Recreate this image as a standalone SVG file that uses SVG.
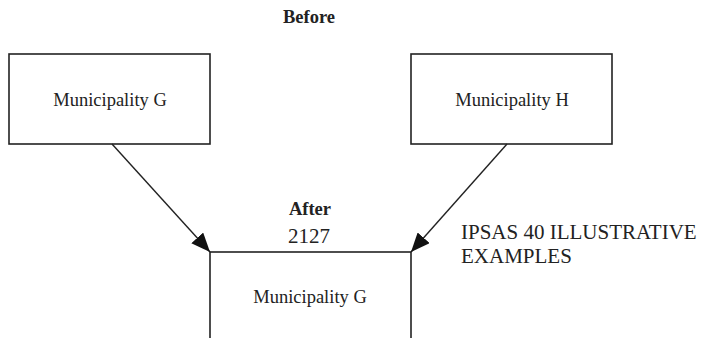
<svg xmlns="http://www.w3.org/2000/svg" width="702" height="338" viewBox="0 0 702 338">
<style>
  .box{fill:#fff;stroke:#222;stroke-width:1.6}
  .t{font-family:"Liberation Serif","Times New Roman",serif;fill:#222;text-anchor:middle}
  .lbl{font-size:18.5px}
  .b{font-size:18.5px;font-weight:bold}
  .conn{stroke:#222;stroke-width:1.4;fill:none}
</style>
<defs>
  <marker id="ah" markerUnits="userSpaceOnUse" markerWidth="20" markerHeight="16" refX="19" refY="8" orient="auto">
    <path d="M0,0 L19,8 L0,16 Z" fill="#111"/>
  </marker>
</defs>
<rect width="702" height="338" fill="#fff"/>
<text class="t b" x="309" y="23">Before</text>
<g id="nodeG">
  <rect class="box" x="9" y="54" width="201" height="90"/>
  <text class="t lbl" x="110" y="106">Municipality G</text>
</g>
<g id="nodeH">
  <rect class="box" x="411" y="54" width="201" height="90"/>
  <text class="t lbl" x="512" y="106">Municipality H</text>
</g>
<g id="nodeAfter">
  <text class="t b" x="310" y="215">After</text>
  <text class="t" x="309" y="243" font-size="21">2127</text>
  <rect class="box" x="210" y="252" width="201" height="120"/>
  <text class="t lbl" x="310" y="303">Municipality G</text>
</g>
<g id="note">
  <text font-family="'Liberation Serif','Times New Roman',serif" font-size="21" fill="#222" x="461" y="239">IPSAS 40 ILLUSTRATIVE</text>
  <text font-family="'Liberation Serif','Times New Roman',serif" font-size="21" fill="#222" x="461" y="263">EXAMPLES</text>
</g>
<g id="connectors">
  <path class="conn" d="M112,144 L210,252" marker-end="url(#ah)"/>
  <path class="conn" d="M507,144 L411,252" marker-end="url(#ah)"/>
</g>
</svg>
